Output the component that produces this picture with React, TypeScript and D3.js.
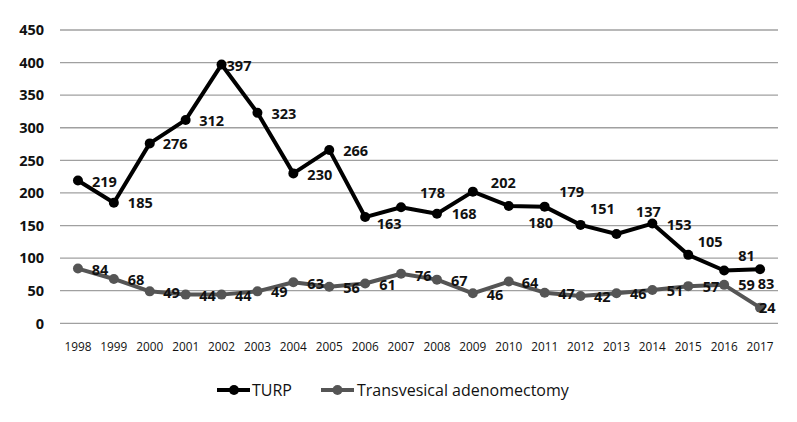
import React from "react";
import * as d3 from "d3";

const years = ["1998","1999","2000","2001","2002","2003","2004","2005","2006","2007","2008","2009","2010","2011","2012","2013","2014","2015","2016","2017"];
const turp = [219,185,276,312,397,323,230,266,163,178,168,202,180,179,151,137,153,105,81,83];
const adenomectomy = [84,68,49,44,44,49,63,56,61,76,67,46,64,47,42,46,51,57,59,24];
const yTicks = [0,50,100,150,200,250,300,350,400,450];
const seriesNames = ["TURP", "Transvesical adenomectomy"];

// label placement offsets (dx from point to label left edge, dy of label centre)
const turpLabelDx = [14,14,13,13.5,5,14,14,14,11.5,19,14.7,18,19.5,14.6,9.4,19.5,14.3,9.4,14,-2.4];
const turpLabelDy = [1,0.5,0.6,0.8,1.2,1.3,1,1.1,7,-15,0.2,-9,17,-15,-16.5,-22,1.5,-13,-14.5,15];
const adenoLabelDx = [13.7,13.8,13.5,13.6,13.4,13.5,14,14,14,14,14,13.8,13,13.6,13.4,13.5,14.3,14.4,14.1,-1];
const adenoLabelDy = [1.5,1,1.3,1.4,1.4,0.9,1.1,0.9,1.5,2,1.1,1,1.1,1.3,0.8,0.9,1,0.6,0.2,0.6];

const W = 797, H = 422;
const FONT = "'Open Sans', 'Noto Sans', sans-serif";

export default function App() {
  const x = d3.scaleBand<string>().domain(years).range([60, 778]);
  const y = d3.scaleLinear().domain([0, 450]).range([323.3, 30]);
  const cx = (yr: string) => (x(yr) as number) + x.bandwidth() / 2;
  const line = d3.line<number>().x((_, i) => cx(years[i])).y((v) => y(v));

  const series = [
    { name: seriesNames[0], values: turp, color: "#000000", dx: turpLabelDx, dy: turpLabelDy },
    { name: seriesNames[1], values: adenomectomy, color: "#555555", dx: adenoLabelDx, dy: adenoLabelDy },
  ];
  const labelFs = 14.5;

  return (
    <svg width={W} height={H} style={{ position: "absolute", left: 0, top: 0, background: "#fff" }} fontFamily={FONT}>
      <rect width={W} height={H} fill="#fff" />
      {yTicks.map((t) => (
        <g key={t}>
          <line x1={60} x2={778} y1={y(t)} y2={y(t)} stroke="#a0a0a0" strokeWidth={1.3} />
          <text x={44} y={y(t) + 0.36 * labelFs} textAnchor="end" fontSize={labelFs} fontWeight={700} fill="#111">{t}</text>
        </g>
      ))}
      {years.map((yr) => (
        <text key={yr} x={cx(yr)} y={351} textAnchor="middle" fontSize={11.8} fill="#111">{yr}</text>
      ))}
      {series.map((s) => (
        <g key={s.name}>
          <path d={line(s.values) || ""} fill="none" stroke={s.color} strokeWidth={4} strokeLinejoin="round" />
          {s.values.map((v, i) => (
            <circle key={i} cx={cx(years[i])} cy={y(v)} r={5} fill={s.color} />
          ))}
        </g>
      ))}
      {series.map((s) => (
        <g key={s.name + "-labels"}>
          {s.values.map((v, i) => (
            <text key={i} x={cx(years[i]) + s.dx[i]} y={y(v) + s.dy[i] + 0.36 * labelFs} fontSize={labelFs} fontWeight={700} fill="#111">{v}</text>
          ))}
        </g>
      ))}
      {/* legend */}
      <g>
        <line x1={217} x2={250} y1={390} y2={390} stroke={series[0].color} strokeWidth={4} />
        <circle cx={234} cy={390} r={5} fill={series[0].color} />
        <text x={252} y={390 + 0.36 * 16} fontSize={16} fill="#111">{series[0].name}</text>
        <line x1={321} x2={354} y1={390} y2={390} stroke={series[1].color} strokeWidth={4} />
        <circle cx={337.5} cy={390} r={5} fill={series[1].color} />
        <text x={357} y={390 + 0.36 * 16} fontSize={16} fill="#111">{series[1].name}</text>
      </g>
    </svg>
  );
}
